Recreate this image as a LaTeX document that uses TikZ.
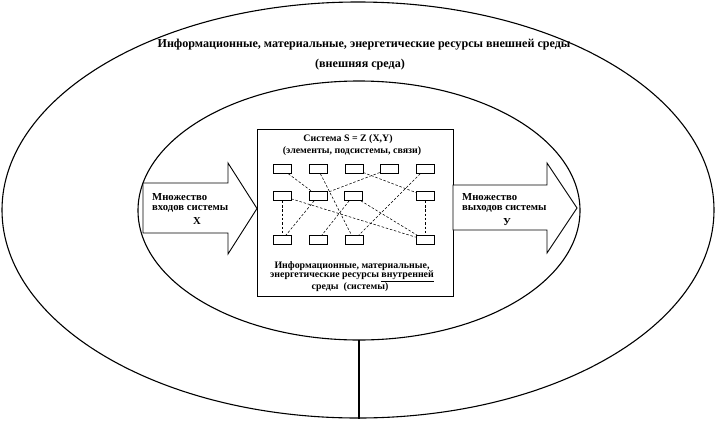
\documentclass[tikz,border=0pt]{standalone}
\usepackage{fontspec}
\setmainfont{Liberation Serif}
\begin{document}
\begin{tikzpicture}[x=1pt,y=-1pt,
  ring/.style={line width=1.1pt},
  arrowshape/.style={draw, fill=white, line width=0.9pt, line join=miter},
  title/.style={font=\bfseries\fontsize{12.1}{14}\selectfont, inner sep=0},
  albl/.style={font=\bfseries\fontsize{10.7}{12}\selectfont, inner sep=0, anchor=west},
  clbl/.style={font=\bfseries\fontsize{10.7}{12}\selectfont, inner sep=0},
  blbl/.style={font=\bfseries\fontsize{9.9}{10}\selectfont, inner sep=0},
  elem/.style={draw, line width=0.5pt, minimum width=18pt, minimum height=9pt, inner sep=0},
  link/.style={line width=0.55pt, dash pattern=on 2.5pt off 1.8pt}
]
\useasboundingbox (0,0) rectangle (717,421);
% ellipses
\draw[ring] (358,210) ellipse [x radius=356, y radius=208];
\draw[ring] (359,210.5) ellipse [x radius=221, y radius=129.5];
\coordinate (inb) at (359,340);
\coordinate (outb) at (359,418.5);
\draw[line width=1.4pt] (inb) -- (outb);
% titles
\node[title] (t1) at (364,45) {Информационные, материальные, энергетические ресурсы внешней среды};
\node[title] (t2) at (360,65) {(внешняя среда)};
% system box
\node[draw, line width=0.9pt, minimum width=196pt, minimum height=167pt, inner sep=0] (sys) at (355,212.5) {};
% arrows
\draw[arrowshape] (143,183) -- (228,183) -- (228,163) -- (257,208.5) -- (228,254) -- (228,233) -- (143,233) -- cycle;
\draw[arrowshape] (453,185) -- (547,185) -- (547,163) -- (577,208) -- (547,253) -- (547,230) -- (453,230) -- cycle;
% arrow labels
\node[albl] (inl1) at (152,197) {Множество};
\node[albl] (inl2) at (152,209) {входов системы};
\node[clbl] (inl3) at (197,221) {X};
\node[albl] (outl1) at (462,197) {Множество};
\node[albl] (outl2) at (462,209) {выходов системы};
\node[clbl] (outl3) at (507,222) {У};
% box texts
\node[blbl] (s1) at (348,139) {Система S = Z (X,Y)};
\node[blbl] (s2) at (352,151) {(элементы, подсистемы, связи)};
\node[blbl] (s3) at (352,266) {Информационные, материальные,};
\node[blbl] (s4) at (352,276.5) {энергетические ресурсы \underline{внутренней}};
\node[blbl] (s5) at (350,287) {среды\ \ (системы)};
% elements
\node[elem] (a1) at (282,169) {};
\node[elem] (a2) at (318,169) {};
\node[elem] (a3) at (354,169) {};
\node[elem] (a4) at (389,169) {};
\node[elem] (a5) at (425,169) {};
\node[elem] (b1) at (282,196) {};
\node[elem] (b2) at (318,196) {};
\node[elem] (b3) at (353,196) {};
\node[elem] (b4) at (425,196) {};
\node[elem] (c1) at (282,240) {};
\node[elem] (c2) at (318,240) {};
\node[elem] (c3) at (354,240) {};
\node[elem] (c4) at (425,240) {};
% links
\draw[link] (a1) -- (b2);
\draw[link] (a2) -- (c3);
\draw[link] (a4) -- (b2);
\draw[link] (a3) -- (b4);
\draw[link] (a5) -- (c3);
\draw[link] (b1) -- (c1);
\draw[link] (b2) -- (c1);
\draw[link] (b1) -- (c4);
\draw[link] (b3) -- (c4);
\draw[link] (b4) -- (c4);
\draw[link] (b3) -- (c2);
\end{tikzpicture}
\end{document}
